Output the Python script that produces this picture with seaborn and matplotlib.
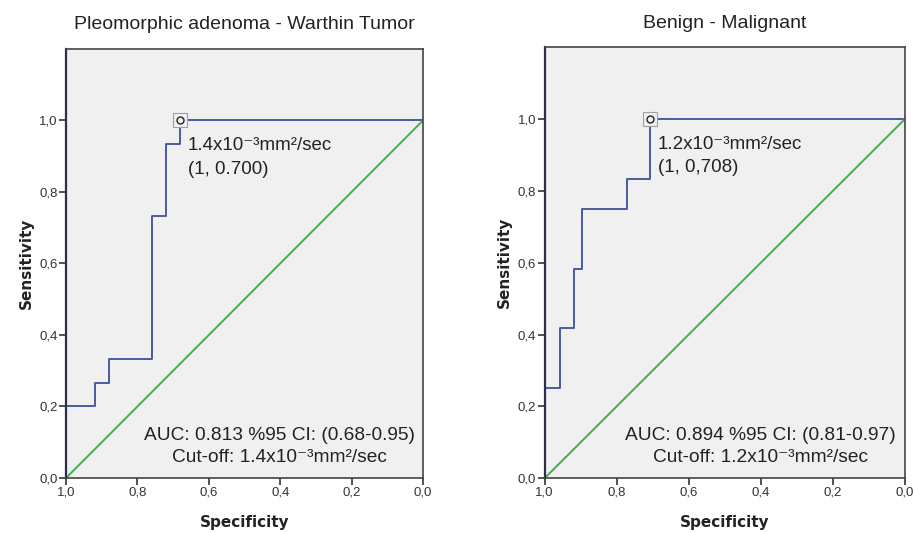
import matplotlib
matplotlib.use("Agg")
import matplotlib.pyplot as plt
import seaborn as sns
import pandas as pd
from matplotlib.ticker import FuncFormatter

sns.set_style("white")
plt.rcParams['font.family'] = ['Liberation Sans', 'DejaVu Sans']

# ROC breakpoints (specificity, sensitivity)
pa_spec = [1.0, 0.92, 0.88, 0.76, 0.72, 0.68, 0.0]
pa_sens = [0.0, 0.2, 0.267, 0.333, 0.733, 0.933, 1.0]
bm_spec = [1.0, 0.958, 0.917, 0.896, 0.771, 0.708, 0.0]
bm_sens = [0.0, 0.25, 0.417, 0.583, 0.75, 0.833, 1.0]

titles = ["Pleomorphic adenoma - Warthin Tumor", "Benign - Malignant"]
cut_labels = ["1.4x10⁻³mm²/sec", "1.2x10⁻³mm²/sec"]
point_labels = ["(1, 0.700)", "(1, 0,708)"]
auc_labels = ["AUC: 0.813 %95 CI: (0.68-0.95)", "AUC: 0.894 %95 CI: (0.81-0.97)"]
cutoff_text = ["Cut-off: 1.4x10⁻³mm²/sec", "Cut-off: 1.2x10⁻³mm²/sec"]
cut_points = [(0.68, 1.0), (0.708, 1.0)]
ticks = [0.0, 0.2, 0.4, 0.6, 0.8, 1.0]

blue = '#4a5a9e'
green = '#45ad4f'

fig = plt.figure(figsize=(9.13, 5.33), dpi=100)
ax1 = fig.add_axes([0.0723, 0.1032, 0.391, 0.805])
ax2 = fig.add_axes([0.5964, 0.1026, 0.3948, 0.809])

curves = [(pa_spec, pa_sens), (bm_spec, bm_sens)]

for i, ax in enumerate([ax1, ax2]):
    ax.set_facecolor('#f0f0f0')
    df = pd.DataFrame({'spec': curves[i][0], 'sens': curves[i][1]})
    sns.lineplot(data=df, x='spec', y='sens', ax=ax, sort=False, estimator=None,
                 drawstyle='steps-pre', color=blue, linewidth=1.4)
    sns.lineplot(x=[1.0, 0.0], y=[0.0, 1.0], ax=ax, color=green, linewidth=1.4)

    cx, cy = cut_points[i]
    ax.plot(cx, cy, marker='s', markersize=10, markerfacecolor='#f0f0f0',
            markeredgecolor='#a0a0a0', markeredgewidth=0.8, zorder=5)
    ax.plot(cx, cy, marker='o', markersize=5, markerfacecolor='none',
            markeredgecolor='#222222', markeredgewidth=1.0, zorder=6)

    ax.text(cx - 0.022, 0.93, cut_labels[i], fontsize=13.5, va='center', ha='left', color='#222222')
    ax.text(cx - 0.022, 0.864, point_labels[i], fontsize=13.5, va='center', ha='left', color='#222222')
    ax.text(0.402, 0.12, auc_labels[i], fontsize=13.8, va='center', ha='center', color='#222222')
    ax.text(0.402, 0.058, cutoff_text[i], fontsize=13.8, va='center', ha='center', color='#222222')

    ax.set_xlim(1.0, 0.0)
    ax.set_ylim(0.0, 1.2)
    ax.set_xticks(ticks)
    ax.set_yticks(ticks)
    fmt = FuncFormatter(lambda v, p: f"{v:.1f}".replace('.', ','))
    ax.xaxis.set_major_formatter(fmt)
    ax.yaxis.set_major_formatter(fmt)
    ax.tick_params(axis='both', direction='out', length=5, width=1.2,
                   color='#333333', labelsize=9.5, labelcolor='#333333', pad=1,
                   bottom=True, left=True)
    for s in ax.spines.values():
        s.set_color('#444444')
        s.set_linewidth(1.2)
    ax.spines['left'].set_color('#2a2f4a')
    ax.spines['left'].set_linewidth(1.6)
    ax.set_xlabel("Specificity", fontsize=11, fontweight='bold', family='DejaVu Sans',
                  color='#222222', labelpad=12)
    ax.set_ylabel("Sensitivity", fontsize=11, fontweight='bold', family='DejaVu Sans',
                  color='#222222', labelpad=4)
    ax.set_title(titles[i], fontsize=14, color='#222222', pad=14)

fig.savefig("out.png", dpi=100)
